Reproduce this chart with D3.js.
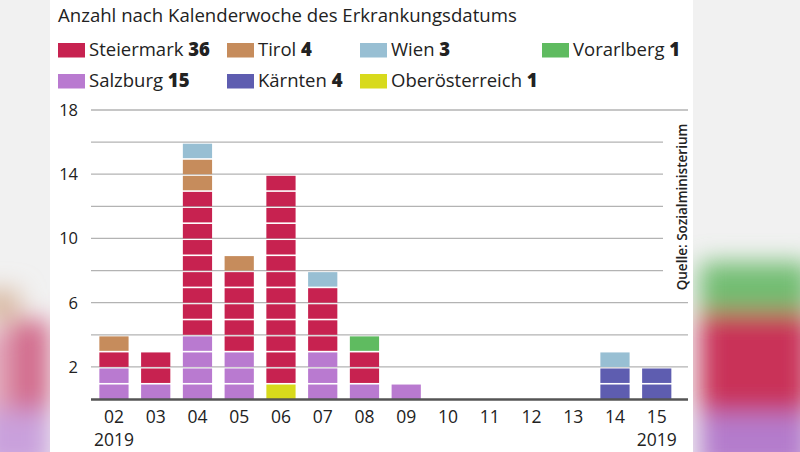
<!DOCTYPE html>
<html><head><meta charset="utf-8">
<script src="https://cdn.jsdelivr.net/npm/d3@7/dist/d3.min.js"></script>
<style>
html,body{margin:0;padding:0;background:#fff;}
svg{display:block;font-family:"Open Sans",sans-serif;}
</style></head>
<body>
<svg id="c" width="800" height="452"></svg>
<script>
// ---- data ----
const weeks = ["02","03","04","05","06","07","08","09","10","11","12","13","14","15"];
const yearLabels = ["2019","","","","","","","","","","","","","2019"];
const salzburg       = [2,1,4,3,0,3,1,1,0,0,0,0,0,0];
const kaernten       = [0,0,0,0,0,0,0,0,0,0,0,0,2,2];
const oberoesterreich= [0,0,0,0,1,0,0,0,0,0,0,0,0,0];
const steiermark     = [1,2,9,5,13,4,2,0,0,0,0,0,0,0];
const vorarlberg     = [0,0,0,0,0,0,1,0,0,0,0,0,0,0];
const tirol          = [1,0,2,1,0,0,0,0,0,0,0,0,0,0];
const wien           = [0,0,1,0,0,1,0,0,0,0,0,0,1,0];
const seriesNames = ["Salzburg","Kärnten","Oberösterreich","Steiermark","Vorarlberg","Tirol","Wien"];
const seriesValues = [salzburg,kaernten,oberoesterreich,steiermark,vorarlberg,tirol,wien];
const seriesColors = ["#b97ad0","#5e5db0","#d8da1c","#c72250","#5fbb60","#c68c5c","#98bfd3"];
const legendRow1 = ["Steiermark","Tirol","Wien","Vorarlberg"];
const legendRow2 = ["Salzburg","Kärnten","Oberösterreich"];
const yLabelTicks = [2,6,10,14,18];
const gridTicks = [2,4,6,8,10,12,14,16,18];
const title = "Anzahl nach Kalenderwoche des Erkrankungsdatums";
const source = "Quelle: Sozialministerium";

// ---- setup ----
const svg = d3.select("#c");
const defs = svg.append("defs");
defs.append("filter").attr("id","blur").attr("x","-50%").attr("y","-50%").attr("width","200%").attr("height","200%")
  .append("feGaussianBlur").attr("stdDeviation",12);

// blurred video-frame background on sides
svg.append("rect").attr("x",0).attr("y",0).attr("width",800).attr("height",452).attr("fill","#f1f1f1");
const bg = svg.append("g").attr("filter","url(#blur)");
[
 [700,262,110,50,"#72bd72"],[700,312,110,100,"#c93058"],[700,412,110,60,"#b47bcc"],
 [-20,290,40,30,"#d8b8a0"],[10,320,40,90,"#d26b8c"],[-20,330,30,80,"#e3a8bc"],[-20,410,70,60,"#c9a0dc"]
].forEach(([x,y,w,h,c])=>bg.append("rect").attr("x",x).attr("y",y).attr("width",w).attr("height",h).attr("fill",c));
svg.append("rect").attr("x",50).attr("y",0).attr("width",643).attr("height",452).attr("fill","#fff");

const y = d3.scaleLinear().domain([0,18]).range([399,110]);
const x = d3.scaleBand().domain(weeks).range([91,679.7]).paddingInner(0.3).paddingOuter(0.2);

// title
svg.append("text").attr("x",58).attr("y",22).attr("font-size",18.6).attr("font-weight",500).attr("fill","#222").text(title);

// legend
const colorOf = n => seriesColors[seriesNames.indexOf(n)];
const totalOf = n => d3.sum(seriesValues[seriesNames.indexOf(n)]);
const legX = [58,227,360,542];
[[legendRow1,43],[legendRow2,74]].forEach(([row,yy])=>{
  row.forEach((n,i)=>{
    const g = svg.append("g").attr("transform",`translate(${legX[i]},${yy})`);
    g.append("rect").attr("width",27).attr("height",14.5).attr("fill",colorOf(n));
    const t = g.append("text").attr("x",31).attr("y",13).attr("font-size",18.5).attr("font-weight",500).attr("fill","#222");
    t.append("tspan").text(n+" ");
    t.append("tspan").attr("font-weight",800).text(totalOf(n));
  });
});

// grid
svg.append("g").selectAll("line").data(gridTicks).join("line")
  .attr("x1",91).attr("x2",d=> (d>=8 && d<=16) ? 663 : 688)
  .attr("y1",d=>y(d)).attr("y2",d=>y(d))
  .attr("stroke","#b3b3b3").attr("stroke-width",1.3);

// y labels
svg.append("g").selectAll("text").data(yLabelTicks).join("text")
  .attr("x",78).attr("y",d=>y(d)+6).attr("text-anchor","end")
  .attr("font-size",16.5).attr("font-weight",500).attr("fill","#222").text(d=>d);

// stacked unit bars
const table = weeks.map((w,i)=>{const o={week:w}; seriesNames.forEach((n,k)=>o[n]=seriesValues[k][i]); return o;});
const stack = d3.stack().keys(seriesNames)(table);
const sep = 1.6;
const cells = [];
stack.forEach((layer,k)=>{
  layer.forEach(d=>{
    for(let v=d[0]; v<d[1]; v++) cells.push({week:d.data.week, v, color:seriesColors[k]});
  });
});
svg.append("g").selectAll("rect").data(cells).join("rect")
  .attr("x",d=>x(d.week)).attr("width",x.bandwidth())
  .attr("y",d=>y(d.v+1)+sep).attr("height",d=>y(d.v)-y(d.v+1)-sep)
  .attr("fill",d=>d.color);

// baseline
svg.append("line").attr("x1",91).attr("x2",688).attr("y1",y(0)+0.5).attr("y2",y(0)+0.5)
  .attr("stroke","#555").attr("stroke-width",2.5);

// x labels
const xl = svg.append("g");
xl.selectAll("text.w").data(weeks).join("text").attr("class","w")
  .attr("x",d=>x(d)+x.bandwidth()/2).attr("y",423).attr("text-anchor","middle")
  .attr("font-size",17.5).attr("font-weight",500).attr("fill","#222").text(d=>d);
xl.selectAll("text.yr").data(weeks.map((w,i)=>({w,l:yearLabels[i]})).filter(d=>d.l)).join("text").attr("class","yr")
  .attr("x",d=>x(d.w)+x.bandwidth()/2).attr("y",446).attr("text-anchor","middle")
  .attr("font-size",17.5).attr("font-weight",500).attr("fill","#222").text(d=>d.l);

// source
svg.append("text").attr("transform","translate(687,207) rotate(-90)").attr("text-anchor","middle")
  .attr("font-size",13.5).attr("font-weight",600).attr("fill","#222").text(source);
</script>
</body></html>
